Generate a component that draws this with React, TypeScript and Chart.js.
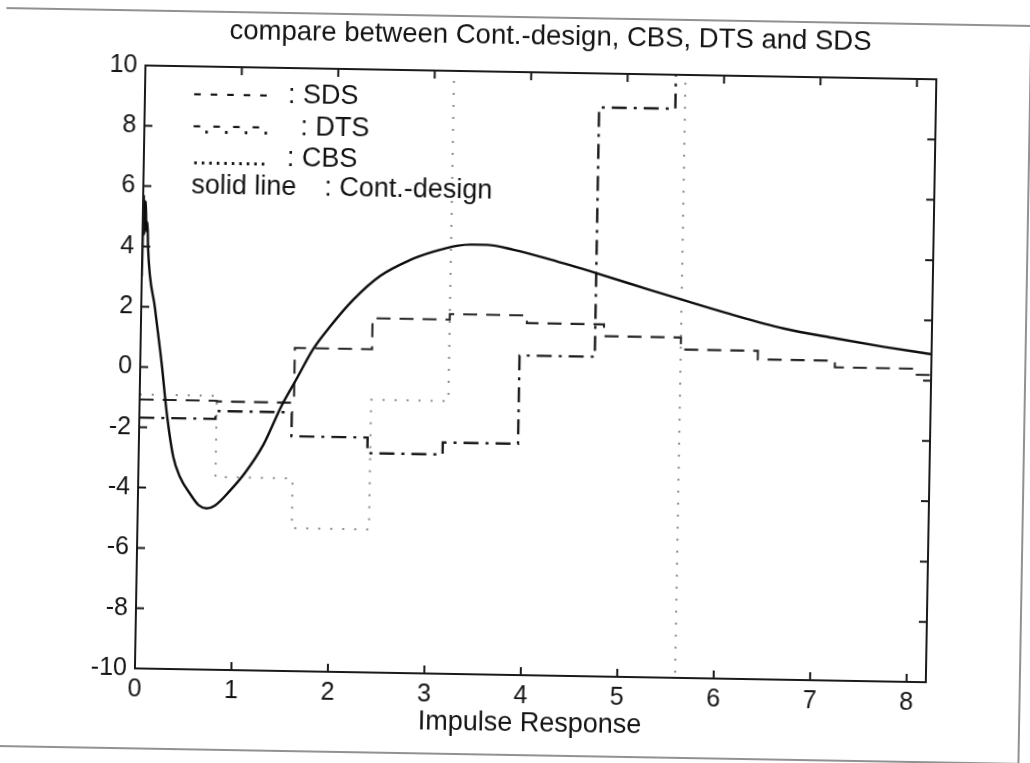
import React, { useEffect, useRef } from "react";
import { Chart, registerables } from "chart.js";

Chart.register(...registerables);

const TITLE = "compare between Cont.-design, CBS, DTS and SDS";
const X_LABEL = "Impulse Response";
const X_MIN = 0;
const X_MAX = 8.2;
const Y_MIN = -10;
const Y_MAX = 10;

// continuous design (solid line)
const CONT_T = [0, 0.008, 0.018, 0.028, 0.04, 0.05, 0.06, 0.142, 0.225, 0.283, 0.359, 0.432, 0.54, 0.63, 0.714, 0.8, 0.953, 1.106, 1.292, 1.473, 1.624, 1.791, 1.961, 2.196, 2.468, 2.777, 3.017, 3.26, 3.41, 3.57, 3.85, 4.23, 4.715, 5.27, 5.618, 6.1, 6.66, 7.2, 7.7, 8.2];
const CONT_Y = [3.0, 5.7, 4.4, 5.5, 4.5, 4.8, 3.95, 1.97, 0.05, -1.5, -2.96, -3.62, -4.18, -4.55, -4.65, -4.55, -4.05, -3.45, -2.5, -1.2, -0.3, 0.7, 1.45, 2.35, 3.15, 3.7, 3.99, 4.2, 4.25, 4.25, 4.1, 3.8, 3.37, 2.85, 2.53, 2.1, 1.65, 1.35, 1.1, 0.88];

// SDS (dashed, zero-order hold)
const SDS_T = [0, 0.8, 1.6, 2.4, 3.2, 4.0, 4.8, 5.6, 6.4, 7.2, 8.0, 8.2];
const SDS_Y = [-1.08, -1.1, 0.72, 1.75, 1.93, 1.68, 1.29, 0.89, 0.61, 0.39, 0.19, 0.19];

// DTS (dash-dot, zero-order hold)
const DTS_T = [0, 0.79, 1.58, 2.37, 3.15, 3.93, 4.71, 5.5, 6.28];
const DTS_Y = [-1.68, -1.42, -2.21, -2.73, -2.33, 0.6, 8.87, 13, 13];

// CBS (dotted, zero-order hold)
const CBS_T = [0, 0.8, 1.6, 2.4, 3.2, 4.0, 4.8, 5.6, 6.4, 7.2, 8.0, 8.2];
const CBS_Y = [-0.91, -3.61, -5.26, -0.95, 13, 13, 13, -13, -13, -13, -13, -13];

const LEGEND_MARKS = ["- - - - -", "-.-.-.-.", "..........", "solid line"];
const LEGEND_NAMES = [": SDS", ": DTS", ": CBS", ": Cont.-design"];

const FONT = '"Liberation Sans", Arial, Helvetica, sans-serif';
const INK = "#141414";

const pts = (t: number[], y: number[]) => t.map((v, i) => ({ x: v, y: y[i] }));

const matlabPlugin = {
  id: "matlabFrame",
  beforeDraw(chart: any) {
    const ctx = chart.ctx;
    ctx.save();
    ctx.fillStyle = "#ffffff";
    ctx.fillRect(0, 0, chart.width, chart.height);
    ctx.strokeStyle = "#6e6e6e";
    ctx.lineWidth = 1.5;
    ctx.beginPath();
    ctx.moveTo(-20, 17);
    ctx.lineTo(1025, 17);
    ctx.lineTo(1025, 755);
    ctx.lineTo(-20, 755);
    ctx.stroke();
    ctx.restore();
  },
  afterDraw(chart: any) {
    const { ctx, chartArea: a, scales } = chart;
    ctx.save();
    ctx.strokeStyle = "#1a1a1a";
    ctx.lineWidth = 2;
    ctx.strokeRect(a.left, a.top, a.right - a.left, a.bottom - a.top);
    const L = 8;
    ctx.beginPath();
    for (const t of scales.x.ticks) {
      const px = scales.x.getPixelForValue(t.value);
      ctx.moveTo(px, a.bottom);
      ctx.lineTo(px, a.bottom - L);
      ctx.moveTo(px, a.top);
      ctx.lineTo(px, a.top + L);
    }
    for (const t of scales.y.ticks) {
      const py = scales.y.getPixelForValue(t.value);
      ctx.moveTo(a.left, py);
      ctx.lineTo(a.left + L, py);
      ctx.moveTo(a.right, py);
      ctx.lineTo(a.right - L, py);
    }
    ctx.stroke();

    ctx.fillStyle = INK;
    ctx.font = `27.5px ${FONT}`;
    ctx.textBaseline = "alphabetic";
    ctx.textAlign = "center";
    ctx.fillText(TITLE, (a.left + a.right) / 2 + 9, a.top - 28.5);

    ctx.textAlign = "left";
    ctx.font = `27px ${FONT}`;
    const baseY = [35, 66.5, 97.5, 127];
    const colonX = [143, 156, 143, 181];
    const spacing = ["0px", "1.6px", "0px", "0px"];
    LEGEND_MARKS.forEach((m, i) => {
      (ctx as any).letterSpacing = spacing[i];
      ctx.fillText(m, a.left + 48, a.top + baseY[i]);
      (ctx as any).letterSpacing = "0px";
      ctx.fillText(LEGEND_NAMES[i], a.left + colonX[i], a.top + baseY[i]);
    });
    ctx.restore();
  },
};

export default function App() {
  const ref = useRef<HTMLCanvasElement | null>(null);
  useEffect(() => {
    if (!ref.current) return;
    const chart = new Chart(ref.current, {
      type: "line",
      data: {
        datasets: [
          {
            label: "Cont.-design",
            data: pts(CONT_T, CONT_Y),
            borderColor: "#0d0d0d",
            borderWidth: 2.4,
            cubicInterpolationMode: "monotone",
            pointRadius: 0,
            clip: 0,
          } as any,
          {
            label: "SDS",
            data: pts(SDS_T, SDS_Y),
            borderColor: "#262626",
            borderWidth: 2.1,
            borderDash: [14, 9],
            stepped: true,
            pointRadius: 0,
            clip: 0,
          },
          {
            label: "DTS",
            data: pts(DTS_T, DTS_Y),
            borderColor: "#1a1a1a",
            borderWidth: 2.4,
            borderDash: [15, 7, 3, 7],
            stepped: true,
            pointRadius: 0,
            clip: 0,
          },
          {
            label: "CBS",
            data: pts(CBS_T, CBS_Y),
            borderColor: "#8a8a8a",
            borderWidth: 2,
            borderDash: [2, 10],
            stepped: true,
            pointRadius: 0,
            clip: 0,
          },
        ],
      },
      options: {
        responsive: false,
        animation: false,
        layout: { padding: { left: 0, right: 99, top: 72, bottom: 0 } },
        plugins: {
          legend: { display: false },
          tooltip: { enabled: false },
          title: { display: false },
        },
        scales: {
          x: {
            type: "linear",
            min: X_MIN,
            max: X_MAX,
            grid: { display: false, drawTicks: false },
            border: { display: false },
            ticks: {
              stepSize: 1,
              includeBounds: false,
              padding: 6,
              color: INK,
              font: { family: FONT, size: 25 },
              maxRotation: 0,
              autoSkip: false,
            },
            title: {
              display: true,
              text: X_LABEL,
              color: INK,
              font: { family: FONT, size: 27 },
              padding: { top: 0, bottom: 23 },
            },
            afterFit: (s: any) => {
              s.height = 88;
            },
          },
          y: {
            type: "linear",
            min: Y_MIN,
            max: Y_MAX,
            grid: { display: false, drawTicks: false },
            border: { display: false },
            ticks: {
              stepSize: 2,
              padding: 8,
              color: INK,
              font: { family: FONT, size: 25 },
            },
            afterFit: (s: any) => {
              s.width = 140;
            },
          },
        },
      } as any,
      plugins: [matlabPlugin],
    });
    return () => chart.destroy();
  }, []);

  return (
    <div
      style={{
        position: "fixed",
        left: 0,
        top: 0,
        width: 1030,
        height: 763,
        background: "#fff",
        transform: "rotate(1deg)",
        transformOrigin: "50% 50%",
      }}
    >
      <canvas ref={ref} width={1030} height={763} style={{ display: "block" }} />
    </div>
  );
}
